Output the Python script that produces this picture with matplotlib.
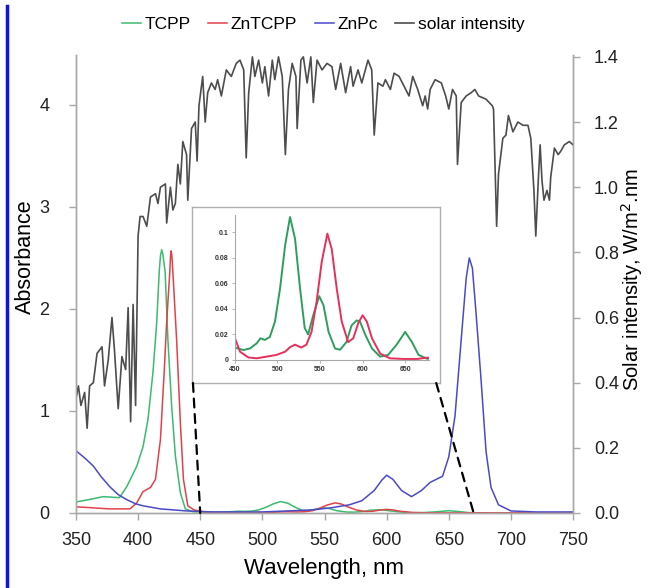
import matplotlib
matplotlib.use("Agg")
import matplotlib.pyplot as plt
from matplotlib.patches import ConnectionPatch
from matplotlib.lines import Line2D
from matplotlib.ticker import FormatStrFormatter

plt.rcParams['font.family'] = ['Liberation Sans', 'DejaVu Sans']

# ---- data ----
tcpp_wl = [351, 360, 372, 385, 391, 399, 404, 408, 412, 415, 417, 418, 419, 420, 421.8, 424, 427, 430, 434, 438, 444,
           450, 460, 467.6, 475.5, 480, 485, 491, 497, 503, 509, 514.7, 520.6, 526.5, 532, 536, 542, 549,
           554, 560, 567.6, 573.5, 581, 587, 593, 597, 603, 611, 620.6, 630, 640, 650, 658, 665.7, 675.5,
           690, 750]
tcpp_abs = [0.11, 0.13, 0.16, 0.15, 0.26, 0.46, 0.65, 0.92, 1.38, 1.87, 2.36, 2.52, 2.58, 2.53, 2.36, 1.70, 1.05, 0.56, 0.20, 0.04, 0.012,
            0.0097, 0.0078, 0.009, 0.013, 0.017, 0.0157, 0.018, 0.030, 0.056, 0.090, 0.112, 0.095, 0.056, 0.025, 0.020, 0.035, 0.050,
            0.043, 0.022, 0.009, 0.008, 0.014, 0.027, 0.031, 0.030, 0.020, 0.009, 0.0026, 0.004, 0.012, 0.022, 0.014, 0.004, 0.001,
            0.001, 0.0]

zntcpp_wl = [351, 377, 393.5, 399, 404, 410, 414, 418, 421, 423, 425.5, 426.1, 426.6, 427.2, 428, 431, 434, 436.5, 440, 445,
             450, 456, 465.7, 475.5, 487, 499, 509, 514.7, 520.6, 528, 534, 540, 546, 552, 558.6, 563.7,
             569.6, 575.5, 583, 589, 595, 600, 605, 611, 620.6, 632, 648, 664, 675.5, 690, 750]
zntcpp_abs = [0.06, 0.04, 0.04, 0.10, 0.21, 0.25, 0.33, 0.72, 1.38, 1.87, 2.36, 2.52, 2.57, 2.52, 2.36, 1.70, 0.89, 0.33, 0.07, 0.03,
              0.017, 0.0065, 0.002, 0.0013, 0.0026, 0.004, 0.0065, 0.010, 0.012, 0.0097, 0.012, 0.022, 0.046, 0.077, 0.099, 0.087,
              0.056, 0.030, 0.014, 0.017, 0.029, 0.035, 0.030, 0.017, 0.005, 0.0013, 0.0008, 0.0008, 0.0018, 0.001, 0.0]

znpc_wl = [351, 357, 364, 370, 377, 384, 391, 398, 404, 418, 439, 460, 480, 500, 520, 540, 555, 570, 580, 590, 596, 600, 605,
           612, 620, 628, 635, 640, 645, 650, 655, 660, 664, 666.5, 669, 672, 676, 680, 684, 690, 700, 720, 750]
znpc_abs = [0.60, 0.54, 0.46, 0.36, 0.26, 0.18, 0.13, 0.09, 0.07, 0.04, 0.02, 0.01, 0.01, 0.01, 0.02, 0.03, 0.05, 0.08, 0.12, 0.22, 0.32, 0.37, 0.33,
            0.22, 0.16, 0.22, 0.30, 0.33, 0.36, 0.55, 0.95, 1.70, 2.30, 2.50, 2.40, 1.95, 1.30, 0.60, 0.25, 0.08, 0.02, 0.01, 0.01]

solar_wl = [350, 352, 354, 357, 359, 361, 364, 367, 371, 373, 376, 379, 381, 384, 387, 390, 392, 394, 396, 398,
            400, 401.6, 404, 407, 410, 414, 416, 418, 422, 423, 426, 428, 430, 432, 434, 436, 439, 440, 443, 446,
            447.5, 449, 452, 454, 456, 459, 462, 464, 467, 471, 475, 479, 482, 485, 487, 489, 492, 494, 497, 500,
            502, 505, 508, 510, 513, 516, 518.5, 521, 524, 527, 528, 531, 533, 536, 539, 541, 544, 548, 552, 556,
            559, 563, 567, 571, 573, 577, 580, 585, 588, 590, 593, 597, 599, 603, 606, 610, 614, 618, 621, 625,
            629, 631, 633, 635, 639, 644, 647.5, 650, 653, 656, 657, 660, 664, 668, 671, 674, 680, 685, 686, 688.5,
            690, 693.5, 696, 698, 701.6, 705.6, 709.7, 713.7, 716, 718.5, 720, 722, 723.5, 725, 726.6, 729, 731, 732,
            735, 738, 740, 743, 747, 750]
solar_val = [0.35, 0.39, 0.33, 0.37, 0.26, 0.39, 0.40, 0.49, 0.51, 0.39, 0.47, 0.60, 0.50, 0.32, 0.48, 0.44, 0.63, 0.28, 0.64, 0.33,
             0.85, 0.91, 0.91, 0.88, 0.97, 0.98, 0.95, 1.00, 1.01, 0.89, 1.00, 0.93, 0.95, 1.07, 1.01, 1.14, 1.10, 0.96, 1.18, 1.20,
             1.08, 1.25, 1.34, 1.20, 1.29, 1.32, 1.30, 1.33, 1.28, 1.36, 1.34, 1.38, 1.39, 1.36, 1.09, 1.29, 1.40, 1.34, 1.39, 1.32,
             1.37, 1.28, 1.39, 1.33, 1.40, 1.34, 1.10, 1.30, 1.38, 1.34, 1.18, 1.39, 1.40, 1.32, 1.40, 1.26, 1.39, 1.36, 1.38, 1.37,
             1.30, 1.38, 1.29, 1.37, 1.31, 1.36, 1.32, 1.39, 1.36, 1.16, 1.32, 1.31, 1.33, 1.30, 1.35, 1.34, 1.31, 1.28, 1.34, 1.30,
             1.25, 1.28, 1.24, 1.30, 1.33, 1.32, 1.28, 1.24, 1.30, 1.28, 1.07, 1.26, 1.28, 1.29, 1.30, 1.28, 1.27, 1.25, 1.24, 0.88,
             1.04, 1.15, 1.16, 1.22, 1.17, 1.20, 1.19, 1.19, 1.15, 0.99, 0.85, 1.02, 1.13, 1.02, 0.96, 0.99, 0.96, 1.03,
             1.12, 1.10, 1.11, 1.13, 1.14, 1.13]

x_ticks = [350, 400, 450, 500, 550, 600, 650, 700, 750]
abs_ticks = [0, 1, 2, 3, 4]
solar_ticks = [0.0, 0.2, 0.4, 0.6, 0.8, 1.0, 1.2, 1.4]
inset_xticks = [450, 500, 550, 600, 650]
inset_yticks = [0, 0.02, 0.04, 0.06, 0.08, 0.1]
zoom_range = [450, 670]

green = "#3cba6e"
red = "#e0424a"
blue = "#4a4ac8"
grey = "#4d4d4d"
spine_c = "#a8a8a8"

fig = plt.figure(figsize=(6.49, 5.88), dpi=100)
ax = fig.add_axes([0.117, 0.1276, 0.766, 0.779])
ax2 = ax.twinx()

l1, = ax.plot(tcpp_wl, tcpp_abs, color=green, lw=1.1, label="TCPP")
l2, = ax.plot(zntcpp_wl, zntcpp_abs, color=red, lw=1.1, label="ZnTCPP")
l3, = ax.plot(znpc_wl, znpc_abs, color=blue, lw=1.1, label="ZnPc")
l4, = ax2.plot(solar_wl, solar_val, color=grey, lw=1.2, label="solar intensity")

ax.set_xlim(350, 750)
ax.set_ylim(0, 4.49)
ax2.set_ylim(0, 1.406)
ax.set_xticks(x_ticks)
ax.set_yticks(abs_ticks)
ax2.set_yticks(solar_ticks)
ax2.yaxis.set_major_formatter(FormatStrFormatter('%.1f'))

for a in (ax, ax2):
    a.spines['top'].set_visible(False)
    for s in a.spines.values():
        s.set_color(spine_c)
        s.set_linewidth(1.0)
    a.tick_params(colors=spine_c, labelcolor="#222222", labelsize=13, length=5, width=1)
ax.tick_params(axis='y', pad=14)
ax.tick_params(axis='x', pad=9)
ax2.tick_params(axis='y', pad=10)

ax.set_xlabel("Wavelength, nm", fontsize=16, labelpad=6)
ax.set_ylabel("Absorbance", fontsize=15.5)
ax.yaxis.set_label_coords(-0.08, 0.56)
fig.text(0.974, 0.525, "Solar intensity, W/m$^2$.nm", rotation=90, fontsize=14.5,
         ha='center', va='center')

fig.legend(handles=[l1, l2, l3, l4], loc='upper center', bbox_to_anchor=(0.498, 0.998),
           ncol=4, frameon=False, fontsize=12.5, handlelength=1.1, handletextpad=0.2,
           columnspacing=1.0)

# inset frame and inset plot
frame = fig.add_axes([0.2958, 0.3486, 0.3821, 0.2993])
frame.set_xticks([])
frame.set_yticks([])
for s in frame.spines.values():
    s.set_color("#b0b0b0")
    s.set_linewidth(1.0)

ins = fig.add_axes([0.362, 0.3878, 0.299, 0.2466])
ins.plot(tcpp_wl, tcpp_abs, color="#2e9e5e", lw=1.4)
ins.plot(zntcpp_wl, zntcpp_abs, color="#e6305a", lw=1.4)
ins.set_xlim(450, 678)
ins.set_ylim(0, 0.1136)
ins.set_xticks(inset_xticks)
ins.set_yticks(inset_yticks)
ins.set_yticklabels(["0", "0.02", "0.04", "0.06", "0.08", "0.1"])
ins.spines['top'].set_visible(False)
ins.spines['right'].set_visible(False)
for s in ins.spines.values():
    s.set_color(spine_c)
    s.set_linewidth(0.8)
ins.tick_params(colors=spine_c, labelcolor="#333333", labelsize=5, length=2.5, width=0.6, pad=2)
for t in ins.get_xticklabels() + ins.get_yticklabels():
    t.set_fontweight('bold')

# dashed connectors from inset frame to the zoomed range
for xa, xb in [(0.004, zoom_range[0]), (0.985, zoom_range[1])]:
    con = ConnectionPatch(xyA=(xa, 0), coordsA=frame.transAxes, xyB=(xb, 0), coordsB=ax.transData,
                          color="black", lw=1.6, linestyle=(0, (4, 3)))
    fig.add_artist(con)

# blue bar at the left edge of the picture
fig.add_artist(Line2D([0.0115, 0.0115], [0.0, 0.99], transform=fig.transFigure, color="#1010e0", lw=2.5))

fig.savefig("out.png", dpi=100)
